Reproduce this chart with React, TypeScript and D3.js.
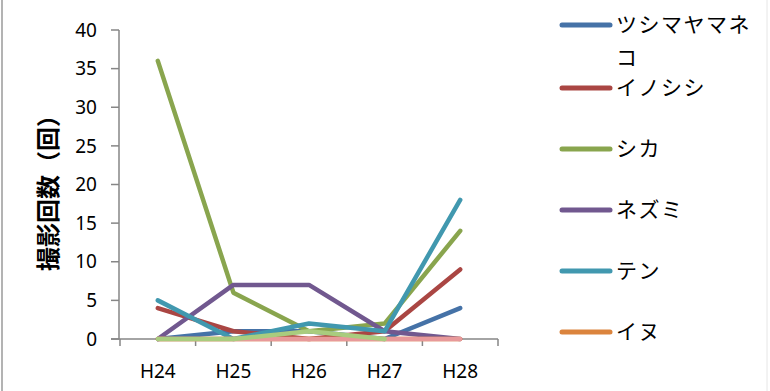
import React from "react";
import * as d3 from "d3";

const categories = ["H24", "H25", "H26", "H27", "H28"];
const seriesNames = ["ツシマヤマネコ", "イノシシ", "シカ", "ネズミ", "テン", "イヌ", "s7", "s8"];
const tsushimaYamaneko: (number | null)[] = [0, 1, 1, 0, 4];
const inoshishi: (number | null)[] = [4, 1, 0, 1, 9];
const shika: (number | null)[] = [36, 6, 1, 2, 14];
const nezumi: (number | null)[] = [0, 7, 7, 1, 0];
const ten: (number | null)[] = [5, 0, 2, 1, 18];
const inu: (number | null)[] = [0, 0, 0, 0, 0];
const series7: (number | null)[] = [0, 0, 0, 0, 0];
const series8: (number | null)[] = [0, 0, 1, 0, null];
const yTicks = [0, 5, 10, 15, 20, 25, 30, 35, 40];
const colors = ["#4572A7", "#AA4643", "#89A54E", "#71588F", "#4198AF", "#DB843D", "#E8999A", "#A9CC7E"];
const legendCount = 6;

const allSeries = [tsushimaYamaneko, inoshishi, shika, nezumi, ten, inu, series7, series8];

export default function App() {
  const W = 770, H = 391;
  const x = d3.scaleBand().domain(categories).range([120, 498]);
  const y = d3.scaleLinear().domain([0, 40]).range([339, 30]);
  const line = d3.line<number | null>()
    .defined((d) => d !== null)
    .x((_, i) => (x(categories[i]) as number) + x.bandwidth() / 2)
    .y((d) => y(d as number));
  const axisColor = "#868686";
  const font = "'Noto Sans', 'Noto Sans CJK JP', sans-serif";
  const jpFont = "'Noto Sans CJK JP', sans-serif";
  const legendY = [25, 88, 149, 210, 271, 332];
  return (
    <svg width={W} height={H} style={{ position: "absolute", left: 0, top: 0, background: "#fff" }}>
      <line x1={2} y1={0} x2={2} y2={H} stroke="#9a9a9a" strokeWidth={1.5} />
      <line x1={767} y1={0} x2={767} y2={H} stroke="#e6e6e6" strokeWidth={1} />
      {/* y axis */}
      <line x1={119} y1={y(40)} x2={119} y2={y(0)} stroke={axisColor} strokeWidth={1.5} />
      {yTicks.map((t) => (
        <g key={t}>
          <line x1={111} x2={119} y1={y(t)} y2={y(t)} stroke={axisColor} strokeWidth={1.5} />
          <text x={97} y={y(t)} dy="0.35em" textAnchor="end" fontSize={19} fontFamily={font} fill="#000">{t}</text>
        </g>
      ))}
      {/* x axis */}
      <line x1={111} x2={498} y1={y(0)} y2={y(0)} stroke={axisColor} strokeWidth={1.5} />
      {categories.map((c, i) => (
        <line key={"t" + i} x1={x(c) as number} x2={x(c) as number} y1={y(0)} y2={y(0) + 7} stroke={axisColor} strokeWidth={1.5} />
      ))}
      <line x1={498} x2={498} y1={y(0)} y2={y(0) + 7} stroke={axisColor} strokeWidth={1.5} />
      {categories.map((c) => (
        <text key={c} x={(x(c) as number) + x.bandwidth() / 2} y={378} textAnchor="middle" fontSize={19} fontFamily={font} fill="#000">{c}</text>
      ))}
      {/* y title */}
      <text transform={`translate(57,187) rotate(-90)`} textAnchor="middle" fontSize={24} fontWeight="bold" fontFamily={jpFont} fill="#000">撮影回数（回）</text>
      {/* lines */}
      {allSeries.map((s, i) => (
        <path key={i} d={line(s) || ""} fill="none" stroke={colors[i]} strokeWidth={4.5} strokeLinejoin="round" strokeLinecap="round" />
      ))}
      {/* legend */}
      {seriesNames.slice(0, legendCount).map((n, i) => (
        <g key={n}>
          <line x1={562} x2={610} y1={legendY[i]} y2={legendY[i]} stroke={colors[i]} strokeWidth={5} strokeLinecap="round" />
          {i === 0 ? (
            <text x={616} y={legendY[i]} dy="0.35em" fontSize={21} fontFamily={jpFont} letterSpacing={1.5} fill="#000">
              <tspan x={616}>{n.slice(0, 6)}</tspan>
              <tspan x={616} dy={33}>{n.slice(6)}</tspan>
            </text>
          ) : (
            <text x={616} y={legendY[i]} dy="0.35em" fontSize={21} fontFamily={jpFont} letterSpacing={1.5} fill="#000">{n}</text>
          )}
        </g>
      ))}
    </svg>
  );
}
